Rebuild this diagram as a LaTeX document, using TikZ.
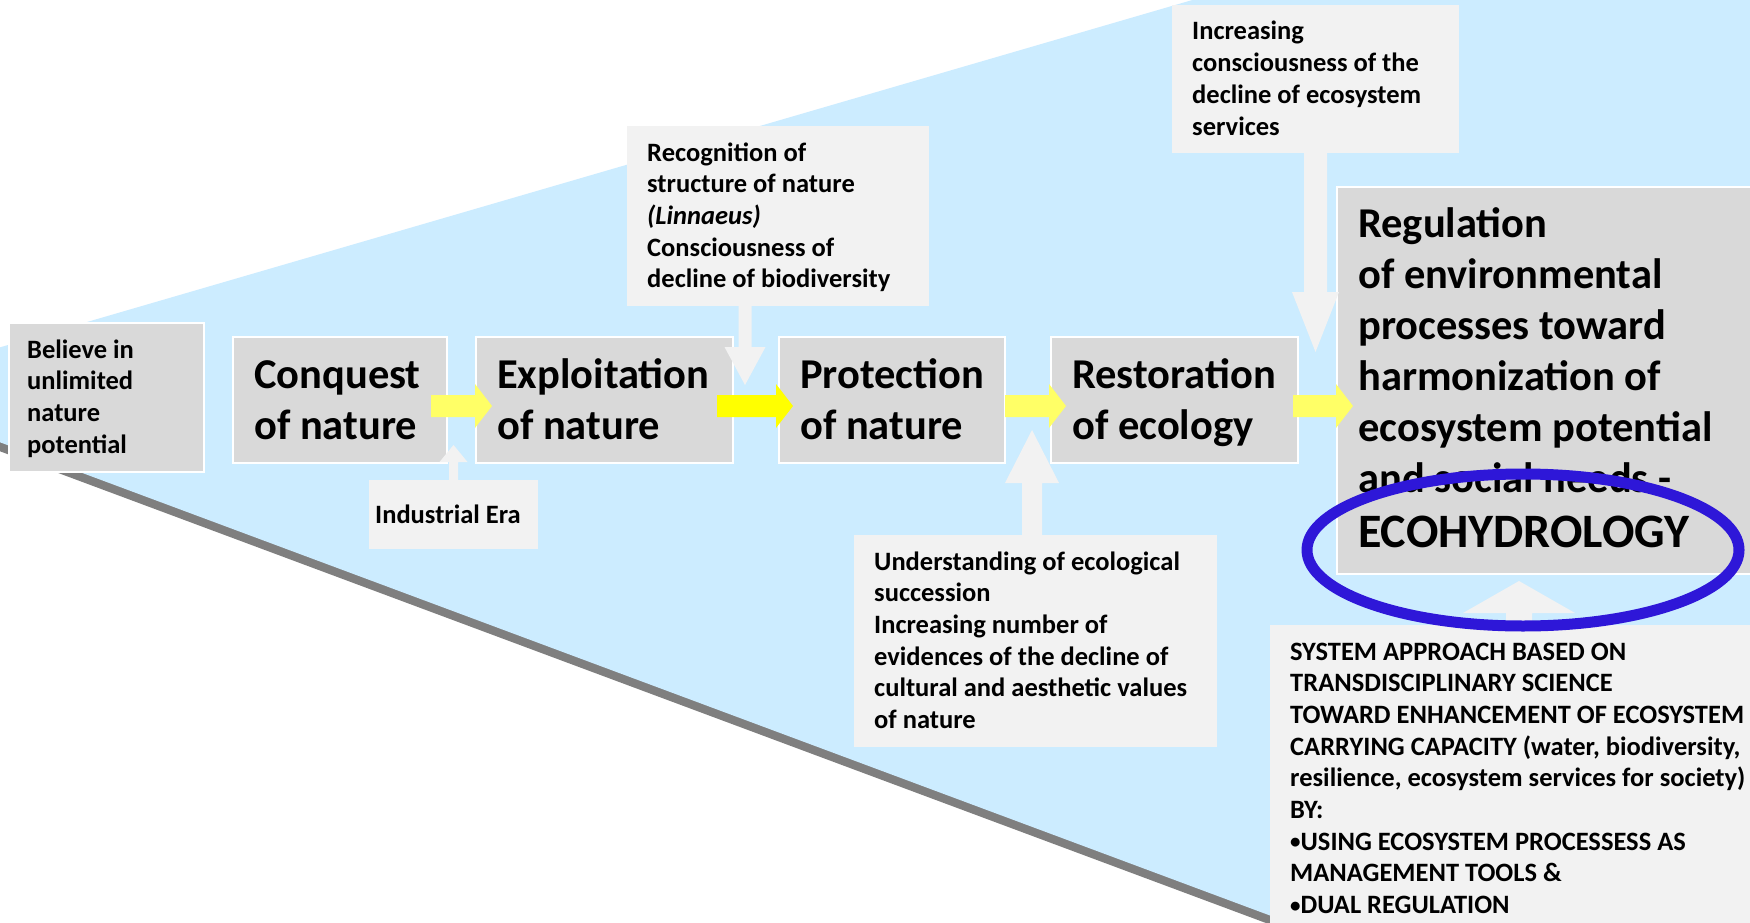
\documentclass[tikz,border=0pt]{standalone}
\usepackage{fontspec}
\setmainfont{Carlito}
\usetikzlibrary{calc}

\definecolor{bgblue}{HTML}{CCECFF}
\definecolor{shadowgray}{HTML}{7F7F7F}
\definecolor{boxgray}{HTML}{D9D9D9}
\definecolor{notegray}{HTML}{F2F2F2}
\definecolor{yellowsoft}{HTML}{FFFF66}
\definecolor{yellowfull}{HTML}{FFFF00}
\definecolor{ringblue}{HTML}{2E17D8}

% horizontal block arrow: colour, start point, tip point (tip only gives x)
\newcommand{\flowarrow}[3]{%
  \fill[#1] let \p1=#2, \p2=#3 in
    (\x1,\y1+11pt) -- (\x2-17pt,\y1+11pt) -- (\x2-17pt,\y1+22pt) -- (\x2,\y1) --
    (\x2-17pt,\y1-22pt) -- (\x2-17pt,\y1-11pt) -- (\x1,\y1-11pt) -- cycle;}
% vertical block arrows: start, tip, shaft half width, head half width, head length
\newcommand{\uparr}[5]{%
  \fill[notegray] let \p1=#1, \p2=#2 in
    (\x2-#3,\y1) -- (\x2-#3,\y2-#5) -- (\x2-#4,\y2-#5) -- (\x2,\y2) --
    (\x2+#4,\y2-#5) -- (\x2+#3,\y2-#5) -- (\x2+#3,\y1) -- cycle;}
\newcommand{\downarr}[5]{%
  \fill[notegray] let \p1=#1, \p2=#2 in
    (\x2-#3,\y1) -- (\x2-#3,\y2+#5) -- (\x2-#4,\y2+#5) -- (\x2,\y2) --
    (\x2+#4,\y2+#5) -- (\x2+#3,\y2+#5) -- (\x2+#3,\y1) -- cycle;}
% small list bullet
\newcommand{\listdot}{{\fontsize{21}{21}\selectfont\raisebox{1.5pt}{•}}}

\begin{document}
\begin{tikzpicture}[x=1pt,y=-1pt,
  stage/.style={draw=white,line width=2pt,fill=boxgray,anchor=north west,inner sep=0pt,outer sep=0pt},
  note/.style={fill=notegray,anchor=north west,inner sep=0pt,outer sep=0pt},
  title/.style={anchor=base west,inner sep=0pt,font=\fontsize{42.5}{51}\selectfont\bfseries},
  small/.style={anchor=base west,inner sep=0pt,font=\fontsize{26.5}{31.7}\selectfont\bfseries},
]
\useasboundingbox (0,0) rectangle (1750,923);
\begin{scope}
\clip (0,0) rectangle (1750,923);
\fill[white] (0,0) rectangle (1750,923);

% widening wedge with its grey shadow
\fill[shadowgray] (-143,398) -- (1800,-168) -- (1800,1122) -- cycle;
\fill[bgblue] (-143,389) -- (1800,-177) -- (1800,1113) -- cycle;

% stage boxes
\node[stage,minimum width=195pt,minimum height=149pt] (believe) at (9,323) {};
\node[stage,minimum width=214pt,minimum height=126pt] (conquest) at (233,337) {};
\node[stage,minimum width=257pt,minimum height=126pt] (exploit) at (476,337) {};
\node[stage,minimum width=226pt,minimum height=126pt] (protect) at (779,337) {};
\node[stage,minimum width=247pt,minimum height=126pt] (restore) at (1051,337) {};
\node[stage,minimum width=423pt,minimum height=387pt] (regul) at (1337,187) {};

% note boxes
\node[note,minimum width=302pt,minimum height=180pt] (recog) at (627,126) {};
\node[note,minimum width=287pt,minimum height=148pt] (incr) at (1172,5) {};
\node[note,minimum width=169pt,minimum height=69pt] (indus) at (369,480) {};
\node[note,minimum width=363pt,minimum height=212pt] (under) at (854,535) {};
\node[note,minimum width=490pt,minimum height=305pt] (sysapp) at (1270,625) {};

% texts
\node[small] (believe-t) at ([shift={(18,35)}]believe.north west)
  {\parbox[t]{300pt}{Believe in\\unlimited\\nature\\potential}};
\node[title] (conquest-t) at ([shift={(21,51)}]conquest.north west)
  {\parbox[t]{400pt}{Conquest\\of nature}};
\node[title] (exploit-t) at ([shift={(21,51)}]exploit.north west)
  {\parbox[t]{400pt}{Exploitation\\of nature}};
\node[title] (protect-t) at ([shift={(21,51)}]protect.north west)
  {\parbox[t]{400pt}{Protection\\of nature}};
\node[title] (restore-t) at ([shift={(21,51)}]restore.north west)
  {\parbox[t]{400pt}{Restoration\\of ecology}};
\node[title] (regul-t) at ([shift={(21,50)}]regul.north west)
  {\parbox[t]{500pt}{Regulation\\of environmental\\processes toward\\harmonization of\\ecosystem potential\\and social needs -\\[4pt]{\fontsize{48}{51}\selectfont ECOHYDROLOGY}}};
\node[small] (recog-t) at ([shift={(20,35)}]recog.north west)
  {\parbox[t]{400pt}{Recognition of\\structure of nature\\\textit{(Linnaeus)}\\Consciousness of\\decline of biodiversity}};
\node[small] (incr-t) at ([shift={(20,35)}]incr.north west)
  {\parbox[t]{400pt}{Increasing\\consciousness of the\\decline of ecosystem\\services}};
\node[small] (indus-t) at ([shift={(6,43)}]indus.north west)
  {\parbox[t]{300pt}{Industrial Era}};
\node[small] (under-t) at ([shift={(20,35)}]under.north west)
  {\parbox[t]{500pt}{Understanding of ecological\\succession\\Increasing number of\\evidences of the decline of\\cultural and aesthetic values\\of nature}};
\node[small] (sysapp-t) at ([shift={(20,35)}]sysapp.north west)
  {\parbox[t]{600pt}{SYSTEM APPROACH BASED ON\\TRANSDISCIPLINARY SCIENCE\\TOWARD ENHANCEMENT OF ECOSYSTEM\\CARRYING CAPACITY (water, biodiversity,\\resilience, ecosystem services for society)\\BY:\\\listdot USING ECOSYSTEM PROCESSESS AS\\MANAGEMENT TOOLS \&\\\listdot DUAL REGULATION}};

% influences from the notes
\uparr{(indus.north)}{([shift={(0,-35)}]indus.north)}{4.5pt}{14pt}{17pt}
\downarr{([shift={(-33,0)}]recog.south)}{([shift={(-33,79)}]recog.south)}{6.5pt}{20.5pt}{38pt}
\uparr{([shift={(-3.5,0)}]under.north)}{([shift={(-3.5,-105)}]under.north)}{10pt}{27pt}{53pt}
\downarr{(incr.south)}{([shift={(0,199)}]incr.south)}{11.5pt}{23.5pt}{60pt}
\uparr{([shift={(4,0)}]sysapp.north)}{([shift={(4,-44)}]sysapp.north)}{13pt}{56pt}{32pt}

% progression arrows
\flowarrow{yellowsoft}{([shift={(-16,6)}]conquest.east)}{([shift={(16,6)}]exploit.west)}
\flowarrow{yellowfull}{([shift={(-16,6)}]exploit.east)}{([shift={(14,6)}]protect.west)}
\flowarrow{yellowsoft}{([shift={(0,6)}]protect.east)}{([shift={(15,6)}]restore.west)}
\flowarrow{yellowsoft}{([shift={(-5,6)}]restore.east)}{([shift={(16,0)}]regul.west)}

% highlight ring
\draw[ringblue,line width=11pt] (1523,550) ellipse [x radius=216, y radius=76];
\end{scope}
\end{tikzpicture}
\end{document}
